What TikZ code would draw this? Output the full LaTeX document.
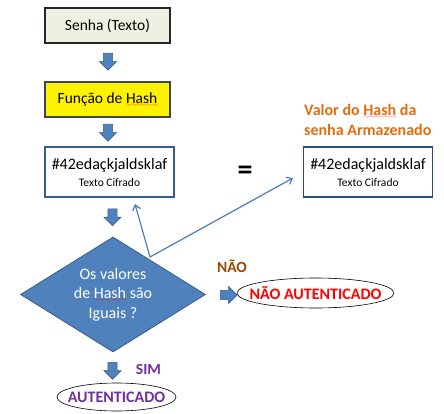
\documentclass[tikz,border=0pt]{standalone}
\usepackage{fontspec}
\setmainfont{Carlito}
\usetikzlibrary{shapes.geometric,shapes.arrows,arrows.meta}
\font\sqfont=lasy6
\newcommand\sq[1]{\setbox0=\hbox{#1}\leavevmode\rlap{\textcolor{red}{\lower3.2pt\hbox to \wd0{\xleaders\hbox{\sqfont\char58}\hfil}}}\box0\relax}
\definecolor{bluefill}{RGB}{79,129,189}
\definecolor{blueline}{RGB}{56,93,138}
\definecolor{thinblue}{RGB}{74,126,187}
\definecolor{senhafill}{RGB}{238,240,226}
\definecolor{labelorange}{RGB}{228,108,10}
\definecolor{naobrown}{RGB}{152,72,6}
\definecolor{simpurple}{RGB}{112,48,160}
\tikzset{
  boxbase/.style={rectangle, minimum width=125pt, minimum height=35pt, inner sep=0pt, font=\fontsize{15.5}{18}\selectfont},
  hashbox/.style={rectangle, draw=blueline, line width=1.4pt, fill=white, minimum width=129pt, minimum height=50pt, inner sep=0pt, align=center, font=\fontsize{16}{18}\selectfont},
  blockarrow/.style={single arrow, fill=bluefill, draw=blueline, line width=0.6pt, inner sep=4.3pt, minimum height=17pt, single arrow head extend=4pt},
  ovalnode/.style={ellipse, draw=black, line width=0.6pt, fill=white, inner ysep=0pt, font=\fontsize{16}{18}\selectfont\bfseries},
  thinarrow/.style={draw=thinblue, line width=1.2pt, -{Straight Barb[length=5pt,width=8pt]}},
  lbl/.style={font=\fontsize{15.5}{19}\selectfont\bfseries, inner sep=0pt}
}
\begin{document}
\begin{tikzpicture}[x=1pt,y=-1pt]
\useasboundingbox (0,0) rectangle (444,414);
% boxes
\node[boxbase, draw=black!85, line width=1.8pt, fill=senhafill] (senha) at (107.5,25.5) {Senha (Texto)};
\node[blockarrow, rotate=-90] (a1) at (108,59.5) {};
\node[boxbase, draw={rgb,255:red,60;green,70;blue,80}, line width=1.6pt, fill=yellow] (funcao) at (107.5,99.5) {Fun\c{c}\~ao de \sq{Hash}};
\node[blockarrow, rotate=-90] (a2) at (108,130.5) {};
\node[hashbox] (hash1) at (109.5,172) {\#42eda\c{c}kjaldsklaf\\[-1pt]{\fontsize{11.5}{13}\selectfont Texto Cifrado}};
\node[hashbox, draw={rgb,255:red,45;green,75;blue,120}] (hash2) at (368,172) {\#42eda\c{c}kjaldsklaf\\[-1pt]{\fontsize{11.5}{13}\selectfont Texto Cifrado}};
\node[font=\fontsize{30}{30}\selectfont\bfseries, inner sep=0pt] (eq) at (245,173) {=};
\node[lbl, text=labelorange, align=left, anchor=west, font=\fontsize{16}{20}\selectfont\bfseries] (stored) at (304,120) {Valor do \sq{Hash} da\\senha Armazenado};
\node[blockarrow, rotate=-90] (a3) at (112.5,215) {};
% diamond
\node[diamond, fill=bluefill, draw=blueline, line width=0.8pt, minimum width=185pt, minimum height=115pt, inner sep=0pt, aspect=1.6, align=center, text=white, font=\fontsize{16}{19.5}\selectfont] (dec) at (113,294.5) {Os valores\\de \sq{Hash} s\~ao\\Iguais ?};
% thin arrows
\coordinate (j) at (150,257);
\coordinate (tip1) at (135,204);
\coordinate (tip2) at (293,178);
\draw[thinarrow] (j) -- (tip1);
\draw[thinarrow] (j) -- (tip2);
% NAO branch
\node[lbl, text=naobrown] (nao) at (232,266) {N\~AO};
\node[blockarrow] (a4) at (226.5,295) {};
\node[ovalnode, text=red, inner xsep=-12pt, minimum width=157pt, minimum height=30pt] (notauth) at (315.5,293) {N\~AO AUTENTICADO};
% SIM branch
\node[blockarrow, rotate=-90] (a5) at (112.5,368.5) {};
\node[lbl, text=simpurple] (sim) at (148.5,369) {SIM};
\node[ovalnode, text=simpurple, inner xsep=-7pt, minimum width=119pt, minimum height=28pt] (auth) at (116.5,397) {AUTENTICADO};
\end{tikzpicture}
\end{document}
